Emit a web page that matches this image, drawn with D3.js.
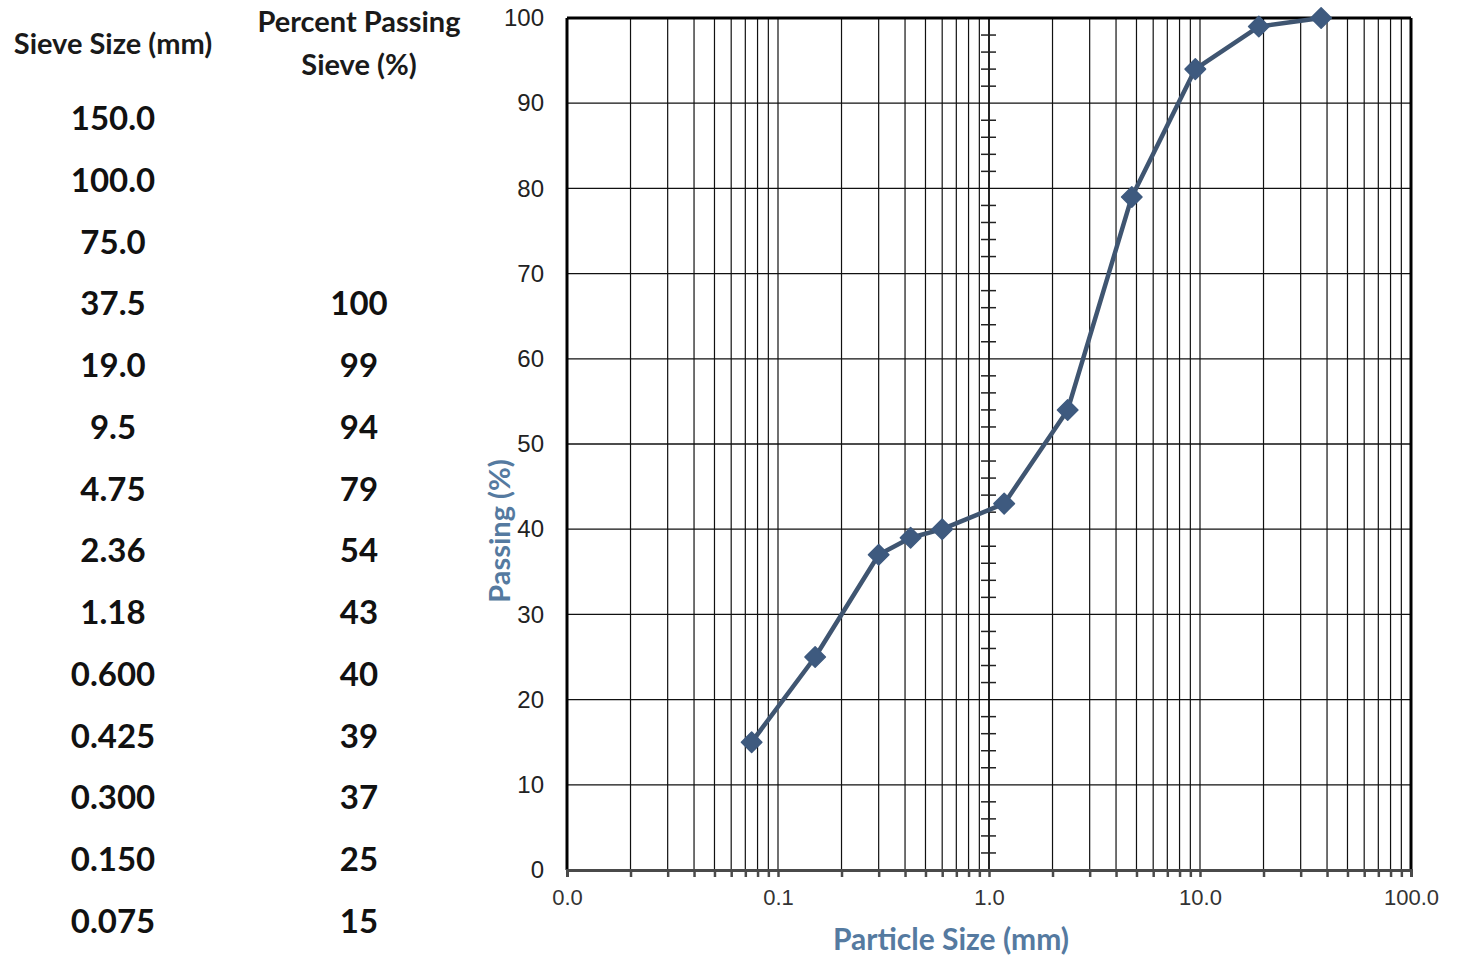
<!DOCTYPE html>
<html>
<head>
<meta charset="utf-8">
<script src="https://cdn.jsdelivr.net/npm/d3@7"></script>
<style>
  html, body { margin: 0; padding: 0; background: #fff; }
  svg { display: block; }
</style>
</head>
<body>
<svg id="chart" width="1461" height="957"></svg>
<script>
// Sieve analysis: gradation table and curve
const sieveSizes = ["150.0", "100.0", "75.0", "37.5", "19.0", "9.5", "4.75", "2.36", "1.18", "0.600", "0.425", "0.300", "0.150", "0.075"];
const percentPassing = [null, null, null, 100, 99, 94, 79, 54, 43, 40, 39, 37, 25, 15];
const xTickValues = [0.01, 0.1, 1, 10, 100];
const xTickLabels = ["0.0", "0.1", "1.0", "10.0", "100.0"];
const yTickValues = [0, 10, 20, 30, 40, 50, 60, 70, 80, 90, 100];

const svg = d3.select("#chart");

const plotLeft = 567, plotRight = 1411, plotTop = 18, plotBottom = 870;
const x = d3.scaleLog().domain([0.01, 100]).range([plotLeft, plotRight]);
const y = d3.scaleLinear().domain([0, 100]).range([plotBottom, plotTop]);

// ---------- table ----------
const tableFont = "Lato, 'Open Sans', sans-serif";
const col1 = 113, col2 = 359;
const hdr = svg.append("g").attr("font-family", tableFont).attr("font-weight", 700)
  .attr("font-size", 29).attr("fill", "#1a1a1a").attr("text-anchor", "middle");
hdr.append("text").attr("x", col1).attr("y", 54).text("Sieve Size (mm)");
hdr.append("text").attr("x", col2).attr("y", 32).text("Percent Passing");
hdr.append("text").attr("x", col2).attr("y", 75).text("Sieve (%)");

const rowY = d3.scaleLinear().domain([0, sieveSizes.length - 1]).range([130, 933]);
const body = svg.append("g").attr("font-family", tableFont).attr("font-weight", 700)
  .attr("font-size", 33).attr("fill", "#111").attr("text-anchor", "middle");
body.selectAll("text.size").data(sieveSizes).join("text")
  .attr("class", "size").attr("x", col1).attr("y", (d, i) => rowY(i)).text(d => d);
body.selectAll("text.pass").data(percentPassing).join("text")
  .attr("class", "pass").attr("x", col2).attr("y", (d, i) => rowY(i))
  .text(d => d == null ? "" : d);

// ---------- grid ----------
const minorX = [];
for (let e = -2; e < 2; e++) {
  for (let m = 1; m <= 9; m++) {
    const v = m * Math.pow(10, e);
    if (v > 0.01) minorX.push(+v.toPrecision(3));
  }
}
const grid = svg.append("g");
grid.selectAll("line.v").data(minorX.filter(v => v < 100)).join("line")
  .attr("class", "v")
  .attr("x1", d => x(d)).attr("x2", d => x(d))
  .attr("y1", plotTop).attr("y2", plotBottom)
  .attr("stroke", "#111").attr("stroke-width", 1.2);
grid.selectAll("line.h").data(yTickValues.filter(v => v > 0 && v < 100)).join("line")
  .attr("class", "h")
  .attr("x1", plotLeft).attr("x2", plotRight)
  .attr("y1", d => y(d)).attr("y2", d => y(d))
  .attr("stroke", "#111").attr("stroke-width", 1.3);

// vertical value axis crossing at 1.0 with minor cross ticks
const yAxisX = x(1);
grid.append("line").attr("x1", yAxisX).attr("x2", yAxisX).attr("y1", plotTop).attr("y2", plotBottom)
  .attr("stroke", "#111").attr("stroke-width", 1.6);
const minorY = d3.range(2, 100, 2).filter(v => v % 10 !== 0);
grid.selectAll("line.ym").data(minorY).join("line")
  .attr("class", "ym")
  .attr("x1", yAxisX - 8).attr("x2", yAxisX + 7)
  .attr("y1", d => y(d)).attr("y2", d => y(d))
  .attr("stroke", "#222").attr("stroke-width", 1.5);

// plot frame
grid.append("line").attr("x1", plotLeft).attr("x2", plotRight).attr("y1", plotTop).attr("y2", plotTop)
  .attr("stroke", "#000").attr("stroke-width", 3);
grid.append("line").attr("x1", plotLeft).attr("x2", plotLeft).attr("y1", plotTop).attr("y2", plotBottom)
  .attr("stroke", "#000").attr("stroke-width", 3);
grid.append("line").attr("x1", plotRight).attr("x2", plotRight).attr("y1", plotTop).attr("y2", plotBottom)
  .attr("stroke", "#000").attr("stroke-width", 3);

// ---------- x axis ----------
const xAxis = d3.axisBottom(x)
  .tickValues([0.01].concat(minorX.filter(v => v < 100)).concat([100]))
  .tickSize(7)
  .tickFormat(d => {
    const i = xTickValues.findIndex(t => Math.abs(t - d) < 1e-9);
    return i >= 0 ? xTickLabels[i] : "";
  });
const gx = svg.append("g").attr("transform", `translate(0,${plotBottom})`).call(xAxis);
gx.select(".domain").attr("stroke", "#4a4a4a").attr("stroke-width", 3);
gx.selectAll(".tick line").attr("stroke", "#4a4a4a").attr("stroke-width", 2.5);
gx.selectAll(".tick text")
  .attr("font-family", "'Liberation Sans', Arial, sans-serif")
  .attr("font-size", 22).attr("fill", "#333").attr("y", 19).attr("dy", "0.71em");

// ---------- y axis labels ----------
const yAxis = d3.axisLeft(y).tickValues(yTickValues).tickSize(0).tickPadding(0);
const gy = svg.append("g").attr("transform", `translate(544,0)`).call(yAxis);
gy.select(".domain").remove();
gy.selectAll(".tick text")
  .attr("font-family", "'Liberation Sans', Arial, sans-serif")
  .attr("font-size", 24).attr("fill", "#222");

// ---------- axis titles ----------
const titleColor = "#557aa0";
svg.append("text")
  .attr("x", 951).attr("y", 950)
  .attr("text-anchor", "middle")
  .attr("font-family", tableFont).attr("font-weight", 700)
  .attr("font-size", 30).attr("fill", titleColor)
  .text("Particle Size (mm)");
svg.append("text")
  .attr("transform", "translate(510,531) rotate(-90)")
  .attr("text-anchor", "middle")
  .attr("font-family", tableFont).attr("font-weight", 700)
  .attr("font-size", 29).attr("fill", titleColor)
  .text("Passing (%)");

// ---------- gradation curve ----------
const points = sieveSizes
  .map((s, i) => ({ size: parseFloat(s), pass: percentPassing[i] }))
  .filter(d => d.pass != null);

const line = d3.line().x(d => x(d.size)).y(d => y(d.pass));
svg.append("path").datum(points)
  .attr("d", line)
  .attr("fill", "none")
  .attr("stroke", "#3f5571")
  .attr("stroke-width", 4.5)
  .attr("stroke-linejoin", "round");

const diamond = d3.symbol().type(d3.symbolSquare).size(210);
svg.selectAll("path.mark").data(points).join("path")
  .attr("class", "mark")
  .attr("d", diamond)
  .attr("transform", d => `translate(${x(d.size)},${y(d.pass)}) rotate(45)`)
  .attr("fill", "#3e5a7f")
  .attr("stroke", "#3e5a7f")
  .attr("stroke-width", 1.5)
  .attr("stroke-linejoin", "round");
</script>
</body>
</html>
